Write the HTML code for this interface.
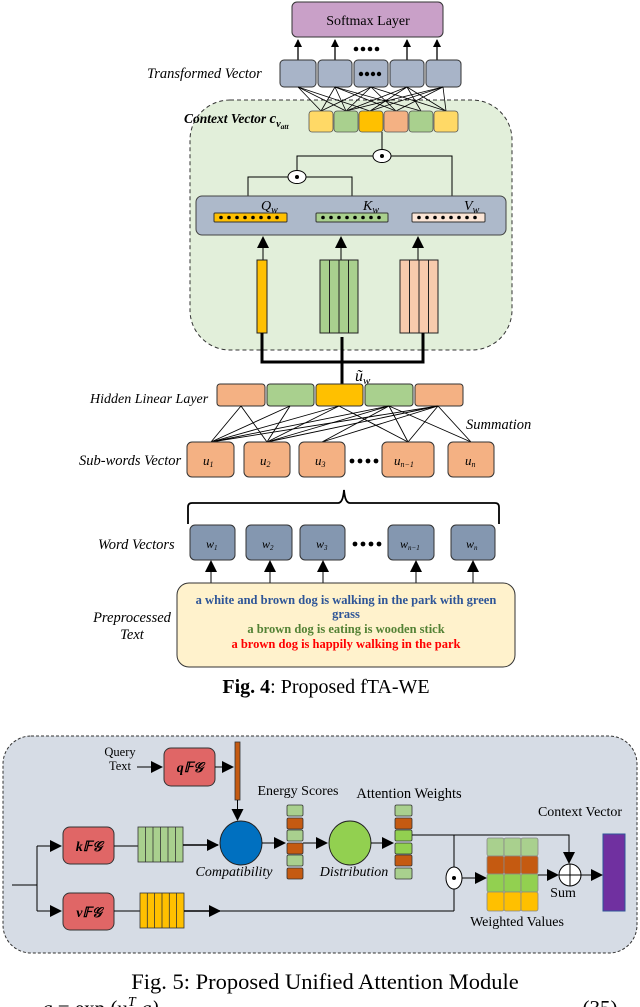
<!DOCTYPE html>
<html><head><meta charset="utf-8"><style>
html,body{margin:0;padding:0;background:#fff;}
svg{display:block;}
text{font-family:"Liberation Serif",serif;}
</style></head><body>
<svg width="640" height="1007" viewBox="0 0 640 1007" xmlns="http://www.w3.org/2000/svg">
<defs>
<marker id="ah" markerWidth="8" markerHeight="8" refX="7" refY="4" orient="auto" markerUnits="userSpaceOnUse"><path d="M0,0 L8,4 L0,8 z" fill="#000"/></marker>
<marker id="ab" markerWidth="12" markerHeight="12" refX="11" refY="6" orient="auto" markerUnits="userSpaceOnUse"><path d="M0,0 L12,6 L0,12 z" fill="#000"/></marker>
</defs>

<!-- ===== Fig 4 ===== -->
<rect x="292" y="2" width="151" height="35" rx="5" fill="#c9a0c8" stroke="#333" stroke-width="1"/>
<text x="368" y="25" font-size="14" text-anchor="middle">Softmax Layer</text>
<g stroke="#000" stroke-width="1.3">
<line x1="298" y1="60" x2="298" y2="40" marker-end="url(#ah)"/>
<line x1="335" y1="60" x2="335" y2="40" marker-end="url(#ah)"/>
<line x1="407" y1="60" x2="407" y2="40" marker-end="url(#ah)"/>
<line x1="437" y1="60" x2="437" y2="40" marker-end="url(#ah)"/>
</g>
<g fill="#000"><circle cx="356" cy="49" r="2.3"/><circle cx="363" cy="49" r="2.3"/><circle cx="370" cy="49" r="2.3"/><circle cx="377" cy="49" r="2.3"/></g>

<text x="147" y="78" font-size="14.5" font-style="italic">Transformed Vector</text>
<g fill="#a8b4c8" stroke="#333" stroke-width="1">
<rect x="280" y="60" width="36" height="27" rx="4"/>
<rect x="318" y="60" width="34" height="27" rx="4"/>
<rect x="354" y="60" width="34" height="27" rx="4"/>
<rect x="390" y="60" width="34" height="27" rx="4"/>
<rect x="426" y="60" width="35" height="27" rx="4"/>
</g>
<g fill="#000"><circle cx="361" cy="74" r="2.2"/><circle cx="367" cy="74" r="2.2"/><circle cx="373" cy="74" r="2.2"/><circle cx="379" cy="74" r="2.2"/></g>

<rect x="190" y="100" width="322" height="250" rx="40" fill="#e2efda" stroke="#333" stroke-width="1" stroke-dasharray="4,3"/>

<g stroke="#000" stroke-width="0.8">
<line x1="298" y1="87" x2="321" y2="111"/><line x1="298" y1="87" x2="346" y2="111"/><line x1="298" y1="87" x2="370" y2="111"/>
<line x1="335" y1="87" x2="321" y2="111"/><line x1="335" y1="87" x2="346" y2="111"/><line x1="335" y1="87" x2="396" y2="111"/><line x1="335" y1="87" x2="421" y2="111"/>
<line x1="371" y1="87" x2="346" y2="111"/><line x1="371" y1="87" x2="396" y2="111"/><line x1="371" y1="87" x2="446" y2="111"/><line x1="371" y1="87" x2="321" y2="111"/>
<line x1="407" y1="87" x2="346" y2="111"/><line x1="407" y1="87" x2="370" y2="111"/><line x1="407" y1="87" x2="421" y2="111"/><line x1="407" y1="87" x2="446" y2="111"/>
<line x1="443" y1="87" x2="346" y2="111"/><line x1="443" y1="87" x2="396" y2="111"/><line x1="443" y1="87" x2="446" y2="111"/><line x1="443" y1="87" x2="370" y2="111"/>
</g>
<text x="184" y="123" font-size="13.5" font-style="italic" font-weight="bold">Context Vector <tspan font-size="15">c</tspan><tspan font-size="10" dy="4">v</tspan><tspan font-size="7.5" dy="2">att</tspan></text>
<g stroke="#555" stroke-width="0.8">
<rect x="309" y="111" width="24" height="21" rx="3" fill="#ffd966"/>
<rect x="334" y="111" width="24" height="21" rx="3" fill="#a9d08e"/>
<rect x="359" y="111" width="24" height="21" rx="3" fill="#ffc000"/>
<rect x="384" y="111" width="24" height="21" rx="3" fill="#f4b183"/>
<rect x="409" y="111" width="24" height="21" rx="3" fill="#a9d08e"/>
<rect x="434" y="111" width="24" height="21" rx="3" fill="#ffd966"/>
</g>

<g stroke="#000" stroke-width="1" fill="none">
<line x1="382" y1="132" x2="382" y2="150"/>
<polyline points="297,171 297,156 452,156 452,213"/>
<polyline points="248,213 248,177 352,177 352,213"/>
</g>
<ellipse cx="382" cy="156" rx="9" ry="6.5" fill="#fff" stroke="#000"/><circle cx="382" cy="156" r="2" fill="#000"/>
<ellipse cx="297" cy="177" rx="9" ry="6.5" fill="#fff" stroke="#000"/><circle cx="297" cy="177" r="2" fill="#000"/>

<rect x="196" y="196" width="310" height="39" rx="6" fill="#adb9ca" stroke="#444" stroke-width="1"/>
<rect x="214" y="213" width="73" height="9" rx="1" fill="#ffc000" stroke="#333"/>
<rect x="316" y="213" width="72" height="9" rx="1" fill="#a9d08e" stroke="#333"/>
<rect x="412" y="213" width="73" height="9" rx="1" fill="#fbe5d6" stroke="#333"/>
<g fill="#000">
<circle cx="221" cy="217.5" r="1.8"/><circle cx="229" cy="217.5" r="1.8"/><circle cx="237" cy="217.5" r="1.8"/><circle cx="245" cy="217.5" r="1.8"/><circle cx="253" cy="217.5" r="1.8"/><circle cx="261" cy="217.5" r="1.8"/><circle cx="269" cy="217.5" r="1.8"/><circle cx="277" cy="217.5" r="1.8"/>
<circle cx="323" cy="217.5" r="1.8"/><circle cx="331" cy="217.5" r="1.8"/><circle cx="339" cy="217.5" r="1.8"/><circle cx="347" cy="217.5" r="1.8"/><circle cx="355" cy="217.5" r="1.8"/><circle cx="363" cy="217.5" r="1.8"/><circle cx="371" cy="217.5" r="1.8"/><circle cx="379" cy="217.5" r="1.8"/>
<circle cx="419" cy="217.5" r="1.8"/><circle cx="427" cy="217.5" r="1.8"/><circle cx="435" cy="217.5" r="1.8"/><circle cx="443" cy="217.5" r="1.8"/><circle cx="451" cy="217.5" r="1.8"/><circle cx="459" cy="217.5" r="1.8"/><circle cx="467" cy="217.5" r="1.8"/><circle cx="475" cy="217.5" r="1.8"/>
</g>
<text x="261" y="210" font-size="14" font-style="italic">Q<tspan font-size="10" dy="3">w</tspan></text>
<text x="363" y="210" font-size="14" font-style="italic">K<tspan font-size="10" dy="3">w</tspan></text>
<text x="464" y="210" font-size="14" font-style="italic">V<tspan font-size="10" dy="3">w</tspan></text>

<g stroke="#000" stroke-width="1">
<line x1="263" y1="252" x2="263" y2="237" marker-end="url(#ab)"/>
<line x1="341" y1="252" x2="341" y2="237" marker-end="url(#ab)"/>
<line x1="418" y1="252" x2="418" y2="237" marker-end="url(#ab)"/>
<line x1="263" y1="252" x2="263" y2="260"/><line x1="341" y1="252" x2="341" y2="260"/><line x1="418" y1="252" x2="418" y2="260"/>
</g>
<rect x="257" y="260" width="10" height="73" fill="#ffc000" stroke="#222"/>
<rect x="320" y="260" width="38" height="73" fill="#a9d08e" stroke="#222"/>
<g stroke="#222"><line x1="329.5" y1="260" x2="329.5" y2="333"/><line x1="339" y1="260" x2="339" y2="333"/><line x1="348.5" y1="260" x2="348.5" y2="333"/></g>
<rect x="400" y="260" width="38" height="73" fill="#f8cbad" stroke="#222"/>
<g stroke="#222"><line x1="409.5" y1="260" x2="409.5" y2="333"/><line x1="419" y1="260" x2="419" y2="333"/><line x1="428.5" y1="260" x2="428.5" y2="333"/></g>

<g stroke="#000" stroke-width="3" fill="none">
<polyline points="262,333 262,362 423,362 423,333"/>
<line x1="342" y1="337" x2="342" y2="385"/>
</g>
<text x="355" y="381" font-size="16" font-style="italic">ũ<tspan font-size="11" dy="3">w</tspan></text>

<text x="90" y="403" font-size="14" font-style="italic">Hidden Linear Layer</text>
<g stroke="#333" stroke-width="1">
<rect x="217" y="384" width="48" height="22" rx="3" fill="#f4b183"/>
<rect x="267" y="384" width="47" height="22" rx="3" fill="#a9d08e"/>
<rect x="316" y="384" width="47" height="22" rx="3" fill="#ffc000"/>
<rect x="365" y="384" width="48" height="22" rx="3" fill="#a9d08e"/>
<rect x="415" y="384" width="48" height="22" rx="3" fill="#f4b183"/>
</g>
<g stroke="#000" stroke-width="0.9">
<line x1="241" y1="406" x2="211" y2="442"/><line x1="241" y1="406" x2="267" y2="442"/>
<line x1="290" y1="406" x2="211" y2="442"/><line x1="290" y1="406" x2="267" y2="442"/>
<line x1="339" y1="406" x2="211" y2="442"/><line x1="339" y1="406" x2="267" y2="442"/><line x1="339" y1="406" x2="408" y2="442"/>
<line x1="389" y1="406" x2="211" y2="442"/><line x1="389" y1="406" x2="267" y2="442"/><line x1="389" y1="406" x2="322" y2="442"/><line x1="389" y1="406" x2="408" y2="442"/><line x1="389" y1="406" x2="471" y2="442"/>
<line x1="438" y1="406" x2="211" y2="442"/><line x1="438" y1="406" x2="267" y2="442"/><line x1="438" y1="406" x2="322" y2="442"/><line x1="438" y1="406" x2="408" y2="442"/><line x1="438" y1="406" x2="471" y2="442"/>
</g>
<text x="466" y="429" font-size="14.5" font-style="italic">Summation</text>

<text x="79" y="465" font-size="14.5" font-style="italic">Sub-words Vector</text>
<g fill="#f4b183" stroke="#333" stroke-width="1">
<rect x="187" y="442" width="47" height="35" rx="5"/>
<rect x="244" y="442" width="46" height="35" rx="5"/>
<rect x="299" y="442" width="46" height="35" rx="5"/>
<rect x="382" y="442" width="52" height="35" rx="5"/>
<rect x="448" y="442" width="46" height="35" rx="5"/>
</g>
<g font-size="13" font-style="italic">
<text x="203" y="465">u<tspan font-size="8" dy="2">1</tspan></text>
<text x="260" y="465">u<tspan font-size="8" dy="2">2</tspan></text>
<text x="315" y="465">u<tspan font-size="8" dy="2">3</tspan></text>
<text x="394" y="465">u<tspan font-size="8" dy="2">n−1</tspan></text>
<text x="465" y="465">u<tspan font-size="8" dy="2">n</tspan></text>
</g>
<g fill="#000"><circle cx="352" cy="461" r="2.4"/><circle cx="360" cy="461" r="2.4"/><circle cx="368" cy="461" r="2.4"/><circle cx="376" cy="461" r="2.4"/></g>

<path d="M188,524 L188,507 Q188,503 192,503 L338,503 Q343,503 344,490 Q345,503 350,503 L495,503 Q499,503 499,507 L499,524" fill="none" stroke="#000" stroke-width="1.8"/>

<text x="98" y="549" font-size="14.5" font-style="italic">Word Vectors</text>
<g fill="#8497b0" stroke="#333" stroke-width="1">
<rect x="190" y="525" width="45" height="35" rx="5"/>
<rect x="246" y="525" width="46" height="35" rx="5"/>
<rect x="300" y="525" width="45" height="35" rx="5"/>
<rect x="388" y="525" width="46" height="35" rx="5"/>
<rect x="451" y="525" width="44" height="35" rx="5"/>
</g>
<g font-size="12" font-style="italic">
<text x="206" y="548">w<tspan font-size="7" dy="2">1</tspan></text>
<text x="262" y="548">w<tspan font-size="7" dy="2">2</tspan></text>
<text x="316" y="548">w<tspan font-size="7" dy="2">3</tspan></text>
<text x="400" y="548">w<tspan font-size="7" dy="2">n−1</tspan></text>
<text x="466" y="548">w<tspan font-size="7" dy="2">n</tspan></text>
</g>
<g fill="#000"><circle cx="355" cy="544" r="2.4"/><circle cx="363" cy="544" r="2.4"/><circle cx="371" cy="544" r="2.4"/><circle cx="379" cy="544" r="2.4"/></g>
<g stroke="#000" stroke-width="1">
<line x1="211" y1="583" x2="211" y2="561" marker-end="url(#ab)"/>
<line x1="270" y1="583" x2="270" y2="561" marker-end="url(#ab)"/>
<line x1="323" y1="583" x2="323" y2="561" marker-end="url(#ab)"/>
<line x1="416" y1="583" x2="416" y2="561" marker-end="url(#ab)"/>
<line x1="473" y1="583" x2="473" y2="561" marker-end="url(#ab)"/>
</g>
<rect x="177" y="583" width="338" height="84" rx="12" fill="#fff2cc" stroke="#333" stroke-width="1"/>
<g font-size="12.5" font-weight="bold" text-anchor="middle">
<text x="346" y="604" fill="#2e5597">a white and brown dog is walking in the park with green</text>
<text x="346" y="618" fill="#2e5597">grass</text>
<text x="346" y="633" fill="#548235">a brown dog is eating is wooden stick</text>
<text x="346" y="648" fill="#ff0000">a brown dog is happily walking in the park</text>
</g>
<text x="132" y="622" font-size="14.5" font-style="italic" text-anchor="middle">Preprocessed</text>
<text x="132" y="639" font-size="14.5" font-style="italic" text-anchor="middle">Text</text>
<text x="326" y="693" font-size="20" text-anchor="middle"><tspan font-weight="bold">Fig. 4</tspan>: Proposed fTA-WE</text>

<!-- ===== Fig 5 ===== -->
<rect x="3" y="736" width="634" height="217" rx="28" fill="#d6dce5" stroke="#333" stroke-width="1" stroke-dasharray="3,2"/>
<text x="120" y="756" font-size="12.5" text-anchor="middle">Query</text>
<text x="120" y="770" font-size="12.5" text-anchor="middle">Text</text>
<line x1="137" y1="767" x2="162" y2="767" stroke="#000" marker-end="url(#ab)"/>
<rect x="164" y="748" width="51" height="38" rx="7" fill="#e06666" stroke="#333"/>
<text x="190" y="772" font-size="14" font-style="italic" font-weight="bold" text-anchor="middle">q𝔽𝒢</text>
<line x1="215" y1="767" x2="233" y2="767" stroke="#000" marker-end="url(#ab)"/>
<rect x="235" y="742" width="5" height="58" fill="#c55a11" stroke="#333" stroke-width="0.8"/>
<line x1="237.5" y1="800" x2="237.5" y2="820" stroke="#000" marker-end="url(#ab)"/>

<text x="298" y="795" font-size="14" text-anchor="middle">Energy Scores</text>
<text x="409" y="798" font-size="14.5" text-anchor="middle">Attention Weights</text>
<text x="580" y="816" font-size="14" text-anchor="middle">Context Vector</text>

<g stroke="#000" stroke-width="1" fill="none">
<line x1="12" y1="885" x2="37" y2="885"/>
<polyline points="37,911 37,846"/>
</g>
<line x1="37" y1="846" x2="61" y2="846" stroke="#000" marker-end="url(#ab)"/>
<line x1="37" y1="911" x2="61" y2="911" stroke="#000" marker-end="url(#ab)"/>
<rect x="63" y="827" width="51" height="37" rx="7" fill="#e06666" stroke="#333"/>
<text x="89" y="851" font-size="14" font-style="italic" font-weight="bold" text-anchor="middle">k𝔽𝒢</text>
<rect x="63" y="893" width="51" height="37" rx="7" fill="#e06666" stroke="#333"/>
<text x="89" y="917" font-size="14" font-style="italic" font-weight="bold" text-anchor="middle">v𝔽𝒢</text>
<line x1="114" y1="846" x2="138" y2="846" stroke="#000"/>
<line x1="114" y1="911" x2="140" y2="911" stroke="#000"/>
<rect x="138" y="827" width="45" height="35" fill="#a9d08e" stroke="#333" stroke-width="0.8"/>
<g stroke="#333" stroke-width="0.8"><line x1="145.5" y1="827" x2="145.5" y2="862"/><line x1="153" y1="827" x2="153" y2="862"/><line x1="160.5" y1="827" x2="160.5" y2="862"/><line x1="168" y1="827" x2="168" y2="862"/><line x1="175.5" y1="827" x2="175.5" y2="862"/></g>
<rect x="140" y="893" width="44" height="35" fill="#ffc000" stroke="#333" stroke-width="0.8"/>
<g stroke="#333" stroke-width="0.8"><line x1="147.3" y1="893" x2="147.3" y2="928"/><line x1="154.6" y1="893" x2="154.6" y2="928"/><line x1="162" y1="893" x2="162" y2="928"/><line x1="169.3" y1="893" x2="169.3" y2="928"/><line x1="176.6" y1="893" x2="176.6" y2="928"/></g>
<line x1="183" y1="845" x2="218" y2="845" stroke="#000" stroke-width="1.5" marker-end="url(#ab)"/>
<line x1="184" y1="911" x2="220" y2="911" stroke="#000" stroke-width="1.5" marker-end="url(#ab)"/>
<line x1="220" y1="911" x2="454" y2="911" stroke="#000"/>

<ellipse cx="241" cy="843" rx="21" ry="22" fill="#0070c0" stroke="#222"/>
<text x="234" y="876" font-size="14" font-style="italic" text-anchor="middle">Compatibility</text>
<line x1="262" y1="843" x2="285" y2="843" stroke="#000" marker-end="url(#ab)"/>
<g stroke="#333" stroke-width="0.8">
<rect x="287" y="805" width="16" height="11" rx="1.5" fill="#a9d08e"/>
<rect x="287" y="818" width="16" height="11" rx="1.5" fill="#c55a11"/>
<rect x="287" y="830" width="16" height="11" rx="1.5" fill="#a9d08e"/>
<rect x="287" y="843" width="16" height="11" rx="1.5" fill="#c55a11"/>
<rect x="287" y="855" width="16" height="11" rx="1.5" fill="#a9d08e"/>
<rect x="287" y="868" width="16" height="11" rx="1.5" fill="#c55a11"/>
</g>
<line x1="303" y1="843" x2="327" y2="843" stroke="#000" marker-end="url(#ab)"/>
<ellipse cx="350" cy="843" rx="21" ry="22" fill="#92d050" stroke="#222"/>
<text x="354" y="876" font-size="14" font-style="italic" text-anchor="middle">Distribution</text>
<line x1="371" y1="843" x2="393" y2="843" stroke="#000" marker-end="url(#ab)"/>
<g stroke="#333" stroke-width="0.8">
<rect x="395" y="805" width="17" height="11" rx="1.5" fill="#a9d08e"/>
<rect x="395" y="818" width="17" height="11" rx="1.5" fill="#c55a11"/>
<rect x="395" y="830" width="17" height="11" rx="1.5" fill="#92d050"/>
<rect x="395" y="843" width="17" height="11" rx="1.5" fill="#92d050"/>
<rect x="395" y="855" width="17" height="11" rx="1.5" fill="#c55a11"/>
<rect x="395" y="868" width="17" height="11" rx="1.5" fill="#a9d08e"/>
</g>
<polyline points="412,835 569,835 569,862" fill="none" stroke="#000"/>
<line x1="569" y1="850" x2="569" y2="863" stroke="#000" marker-end="url(#ab)"/>
<line x1="454" y1="835" x2="454" y2="911" stroke="#000"/>
<ellipse cx="454" cy="878" rx="8" ry="11" fill="#fff" stroke="#000"/><circle cx="454" cy="878" r="2" fill="#000"/>
<line x1="462" y1="878" x2="486" y2="878" stroke="#000" marker-end="url(#ab)"/>
<g stroke="#888" stroke-width="0.8">
<rect x="487" y="838" width="17" height="18" rx="2" fill="#a9d08e"/><rect x="504" y="838" width="17" height="18" rx="2" fill="#a9d08e"/><rect x="521" y="838" width="17" height="18" rx="2" fill="#a9d08e"/>
<rect x="487" y="856" width="17" height="18" rx="2" fill="#c55a11"/><rect x="504" y="856" width="17" height="18" rx="2" fill="#c55a11"/><rect x="521" y="856" width="17" height="18" rx="2" fill="#c55a11"/>
<rect x="487" y="874" width="17" height="18" rx="2" fill="#92d050"/><rect x="504" y="874" width="17" height="18" rx="2" fill="#92d050"/><rect x="521" y="874" width="17" height="18" rx="2" fill="#92d050"/>
<rect x="487" y="892" width="17" height="19" rx="2" fill="#ffc000"/><rect x="504" y="892" width="17" height="19" rx="2" fill="#ffc000"/><rect x="521" y="892" width="17" height="19" rx="2" fill="#ffc000"/>
</g>
<line x1="538" y1="875" x2="558" y2="875" stroke="#000" marker-end="url(#ab)"/>
<circle cx="570" cy="875" r="11" fill="#fff" stroke="#000"/>
<line x1="559" y1="875" x2="581" y2="875" stroke="#000"/><line x1="570" y1="864" x2="570" y2="886" stroke="#000"/>
<text x="563" y="897" font-size="14" text-anchor="middle">Sum</text>
<line x1="581" y1="875" x2="602" y2="875" stroke="#000" marker-end="url(#ab)"/>
<rect x="603" y="834" width="22" height="77" fill="#7030a0" stroke="#2f5597" stroke-width="1"/>
<text x="517" y="926" font-size="14" text-anchor="middle">Weighted Values</text>

<text x="325" y="989" font-size="22.5" text-anchor="middle">Fig. 5: Proposed Unified Attention Module</text>
<text x="42" y="1015" font-size="21" font-style="italic">g<tspan font-style="normal">  = exp (u</tspan><tspan font-size="14" dy="-9">T</tspan><tspan dy="9">  g</tspan>)</text>
<text x="600" y="1015" font-size="21" text-anchor="middle">(35)</text>
</svg>
</body></html>
